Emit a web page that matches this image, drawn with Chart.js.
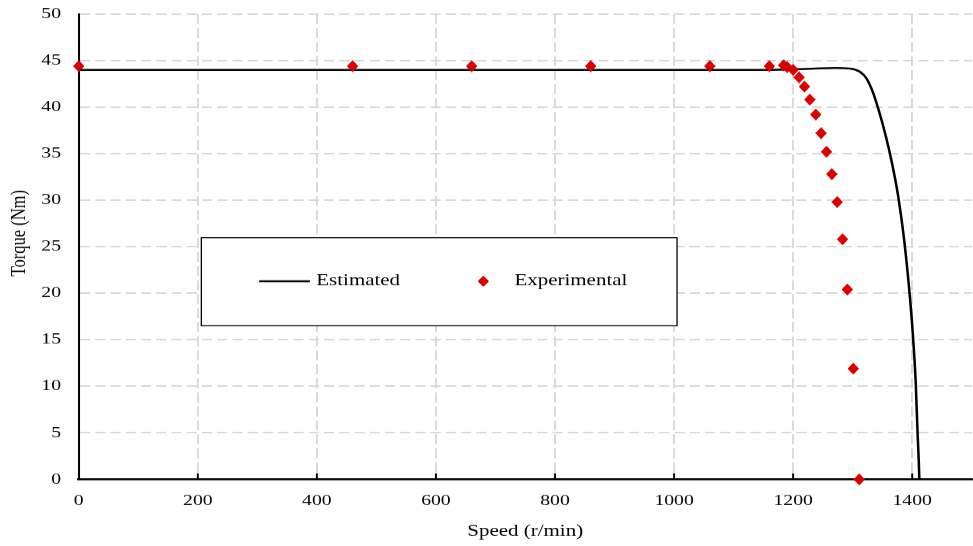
<!DOCTYPE html>
<html>
<head>
<meta charset="utf-8">
<title>Torque - speed</title>
<script src="https://cdn.jsdelivr.net/npm/chart.js@4.4.1/dist/chart.umd.min.js"></script>
<style>
    html, body { margin: 0; padding: 0; background: #fff; overflow: hidden; }
    /* chart is laid out narrower and widened to the page width */
    #wrap { width: 766px; height: 546px; transform-origin: 0 0; transform: scaleX(1.2702); }
</style>
</head>
<body>
<div id="wrap"><canvas id="torqueChart" width="766" height="546"></canvas></div>
<script>
const STRETCH = 973 / 766
const SERIF = "'Liberation Serif', 'Times New Roman', serif"

// estimated torque curve
const estSpeed = [0, 1150, 1230, 1270, 1295, 1312, 1323, 1334, 1345, 1356, 1366, 1376, 1386, 1394, 1401, 1406, 1409, 1411, 1412]
const estTorque = [44.0, 44.0, 44.12, 44.2, 44.15, 43.8, 43.1, 41.6, 39.4, 36.8, 34.0, 30.6, 26.0, 21.1, 15.7, 10.3, 5.0, 2.0, 0]

// measured points
const expSpeed = [0, 460, 660, 860, 1060, 1160, 1184, 1190, 1200, 1210, 1219, 1228, 1238, 1247, 1256, 1265, 1274, 1283, 1291, 1301, 1311]
const expTorque = [44.4, 44.4, 44.4, 44.4, 44.4, 44.4, 44.5, 44.3, 44.0, 43.2, 42.2, 40.8, 39.2, 37.2, 35.2, 32.8, 29.8, 25.8, 20.4, 11.9, 0]

const speedTicks = [0, 200, 400, 600, 800, 1000, 1200, 1400]
const torqueTicks = [0, 5, 10, 15, 20, 25, 30, 35, 40, 45, 50]

const RED = "#d80000"

function makeDiamond(w, h) {
    // drawn large, shown at w x h so it stays sharp after widening
    const k = 4
    const c = document.createElement("canvas")
    c.width = w * k
    c.height = h * k
    const g = c.getContext("2d")
    g.fillStyle = RED
    g.beginPath()
    g.moveTo(c.width / 2, 0)
    g.lineTo(c.width, c.height / 2)
    g.lineTo(c.width / 2, c.height)
    g.lineTo(0, c.height / 2)
    g.closePath()
    g.fill()
    const img = new Image(w, h)
    return new Promise(resolve => {
        img.onload = () => resolve(img)
        img.src = c.toDataURL()
    })
}

const tickMarks = {
    id: "tickMarks",
    beforeDatasetsDraw(chart) {
        const { ctx, chartArea } = chart
        const x = chart.scales.x
        ctx.save()
        ctx.strokeStyle = "#000"
        ctx.lineWidth = 1.5
        ctx.beginPath()
        speedTicks.forEach(v => {
            if (v === 0) return
            const px = x.getPixelForValue(v)
            ctx.moveTo(px, chartArea.bottom)
            ctx.lineTo(px, chartArea.bottom - 6)
        })
        ctx.stroke()
        ctx.restore()
    }
}

// y axis title sits a little above the middle of the axis
const torqueTitle = {
    id: "torqueTitle",
    afterDraw(chart) {
        const ctx = chart.ctx
        ctx.save()
        ctx.translate(15.7, 233)
        ctx.rotate(-Math.PI / 2)
        ctx.fillStyle = "#000"
        ctx.font = "16.5px " + SERIF
        ctx.textAlign = "center"
        ctx.textBaseline = "middle"
        ctx.fillText("Torque (Nm)", 0, 0)
        ctx.restore()
    }
}

function boxLegend(marker) {
    return {
        id: "boxLegend",
        afterDraw(chart) {
            const ctx = chart.ctx
            const [est, exp] = chart.data.datasets
            const bx = 158.5, by = 237.5, bw = 374.5, bh = 88
            const cy = by + 43.5

            ctx.save()
            ctx.fillStyle = "#fff"
            ctx.fillRect(bx, by, bw, bh)
            ctx.strokeStyle = "#000"
            ctx.lineWidth = 1
            ctx.strokeRect(bx, by, bw, bh)

            ctx.strokeStyle = est.borderColor
            ctx.lineWidth = 2
            ctx.beginPath()
            ctx.moveTo(bx + 45.5, cy)
            ctx.lineTo(bx + 85.5, cy)
            ctx.stroke()

            ctx.drawImage(marker, bx + 222 - 4.5, cy - 5.5, 9, 11)

            ctx.fillStyle = "#000"
            ctx.font = "16.5px " + SERIF
            ctx.textBaseline = "middle"
            ctx.textAlign = "left"
            ctx.fillText(est.label, bx + 90.5, cy)
            ctx.fillText(exp.label, bx + 246.5, cy)
            ctx.restore()
        }
    }
}

async function main() {
    const marker = await makeDiamond(9, 12)

    const gridColor = "#d9d9d9"
    const tickFont = { family: SERIF, size: 15.5 }
    const titleFont = { family: SERIF, size: 16.5 }
    const plain = v => String(v)

    new Chart(document.getElementById("torqueChart"), {
        type: "scatter",
        data: {
            datasets: [
                {
                    label: "Estimated",
                    data: estSpeed.map((s, i) => ({ x: s, y: estTorque[i] })),
                    showLine: true,
                    borderColor: "#000",
                    borderWidth: 2,
                    pointRadius: 0,
                    cubicInterpolationMode: "monotone",
                    order: 2
                },
                {
                    label: "Experimental",
                    data: expSpeed.map((s, i) => ({ x: s, y: expTorque[i] })),
                    pointStyle: marker,
                    pointRadius: 5,
                    backgroundColor: RED,
                    borderColor: RED,
                    clip: false,
                    order: 1
                }
            ]
        },
        options: {
            responsive: false,
            animation: false,
            events: [],
            devicePixelRatio: STRETCH,
            layout: { autoPadding: false, padding: { top: 14, right: 1, left: 0, bottom: 0 } },
            plugins: {
                legend: { display: false },
                tooltip: { enabled: false }
            },
            scales: {
                x: {
                    type: "linear",
                    min: 0,
                    max: 1500,
                    afterBuildTicks: scale => { scale.ticks = speedTicks.map(value => ({ value })) },
                    afterFit: scale => {
                        scale.height = 67
                        scale.paddingLeft = 0
                        scale.paddingRight = 0
                    },
                    grid: { color: gridColor, lineWidth: 1.5, drawTicks: false },
                    border: { color: "#000", width: 2, dash: [10, 4] },
                    ticks: { color: "#000", padding: 12, maxRotation: 0, font: tickFont, callback: plain },
                    title: {
                        display: true,
                        text: "Speed (r/min)",
                        color: "#000",
                        font: titleFont,
                        padding: { top: 0, bottom: 5 }
                    }
                },
                y: {
                    type: "linear",
                    min: 0,
                    max: 50,
                    afterBuildTicks: scale => { scale.ticks = torqueTicks.map(value => ({ value })) },
                    afterFit: scale => {
                        scale.width = 62
                        scale.paddingTop = 0
                        scale.paddingBottom = 0
                    },
                    grid: { color: gridColor, lineWidth: 1.5, drawTicks: false },
                    border: { color: "#000", width: 1.6, dash: [8, 4] },
                    ticks: { color: "#000", padding: 14, font: tickFont, callback: plain },
                    title: { display: false }
                }
            }
        },
        plugins: [tickMarks, torqueTitle, boxLegend(marker)]
    })
}

main()
</script>
</body>
</html>
